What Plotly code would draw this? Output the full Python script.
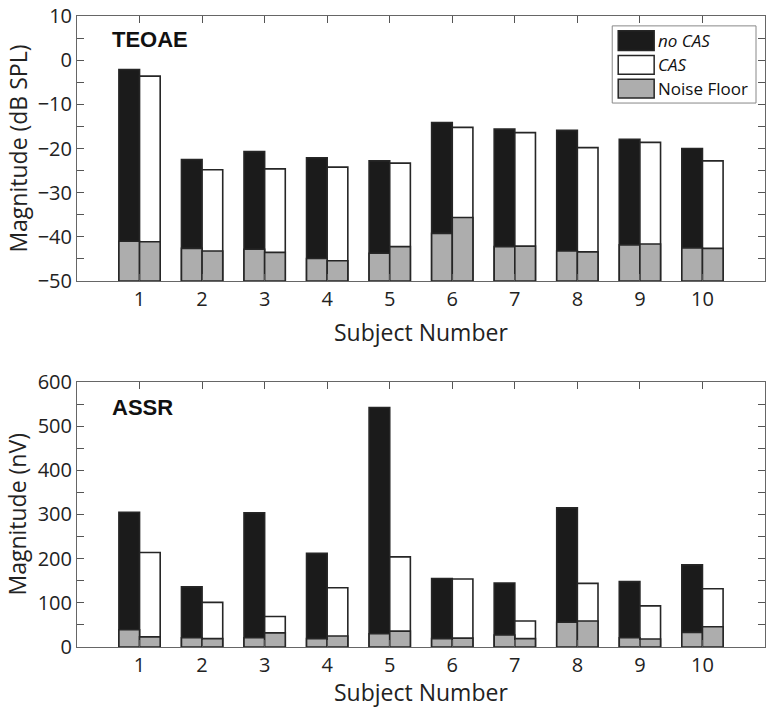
import plotly.graph_objects as go

subjects = [1, 2, 3, 4, 5, 6, 7, 8, 9, 10]
tick_labels = ["1", "2", "3", "4", "5", "6", "7", "8", "9", "10"]

# TEOAE (dB SPL)
teoae_nocas = [-2.1, -22.5, -20.7, -22.1, -22.8, -14.1, -15.6, -15.9, -17.9, -20.0]
teoae_cas = [-3.6, -24.8, -24.6, -24.2, -23.3, -15.2, -16.4, -19.8, -18.6, -22.8]
teoae_nf_nocas = [-41.0, -42.6, -42.8, -44.9, -43.7, -39.2, -42.2, -43.2, -41.8, -42.5]
teoae_nf_cas = [-41.1, -43.2, -43.5, -45.4, -42.2, -35.6, -42.1, -43.4, -41.6, -42.6]

# ASSR (nV)
assr_nocas = [305, 136, 304, 212, 542, 155, 145, 315, 148, 186]
assr_cas = [214, 101, 69, 134, 204, 154, 59, 144, 93, 132]
assr_nf_nocas = [39, 21, 21, 19, 30, 19, 27, 56, 21, 33]
assr_nf_cas = [23, 19, 32, 25, 36, 20, 19, 59, 18, 46]

legend_names = ["no CAS", "CAS", "Noise Floor"]

C_BLACK = "#1b1b1b"
C_WHITE = "#ffffff"
C_GREY = "#adadad"
C_EDGE = "#262626"
BW = 0.33
FONT = "Open Sans"

fig = go.Figure()

def add_bars(vals, base, color, offset, xa, ya):
    fig.add_trace(go.Bar(
        x=subjects, y=[v - base for v in vals], base=base,
        width=BW, offset=offset,
        marker=dict(color=color, line=dict(color=C_EDGE, width=1.6)),
        xaxis=xa, yaxis=ya, showlegend=False, hoverinfo="skip"))

# top
add_bars(teoae_nocas, -50, C_BLACK, -BW, "x", "y")
add_bars(teoae_cas, -50, C_WHITE, 0, "x", "y")
add_bars(teoae_nf_nocas, -50, C_GREY, -BW, "x", "y")
add_bars(teoae_nf_cas, -50, C_GREY, 0, "x", "y")
# bottom
add_bars(assr_nocas, 0, C_BLACK, -BW, "x2", "y2")
add_bars(assr_cas, 0, C_WHITE, 0, "x2", "y2")
add_bars(assr_nf_nocas, 0, C_GREY, -BW, "x2", "y2")
add_bars(assr_nf_cas, 0, C_GREY, 0, "x2", "y2")

# layout geometry (pixels)
W, H = 768, 711
ML, MR, MT, MB = 77, 2, 9, 64
PW = W - ML - MR
PH = H - MT - MB
top_dom = [(H - MB - 277) / PH, 1.0]
bot_dom = [0.0, (H - MB - 379) / PH]

xcommon = dict(range=[0, 11], tickvals=subjects, ticktext=tick_labels,
               ticks="inside", ticklen=7, tickcolor="#555", tickwidth=1,
               showline=True, linecolor="#666", linewidth=1, mirror="ticks",
               showgrid=False, zeroline=False,
               tickfont=dict(family=FONT, size=20, color="#222"))
ycommon = dict(ticks="inside", ticklen=7, tickcolor="#555", tickwidth=1,
               showline=True, linecolor="#666", linewidth=1, mirror="ticks",
               showgrid=False, zeroline=False,
               tickfont=dict(family=FONT, size=20, color="#222"))

fig.update_layout(
    width=W, height=H,
    margin=dict(l=ML, r=MR, t=MT, b=MB),
    paper_bgcolor="white", plot_bgcolor="white",
    barmode="overlay", showlegend=False,
    xaxis=dict(**xcommon, domain=[0, 1], anchor="y"),
    yaxis=dict(**ycommon, domain=top_dom, anchor="x", range=[-50, 10], dtick=10,
               minor=dict(dtick=5, ticks="inside", ticklen=7, tickcolor="#555")),
    xaxis2=dict(**xcommon, domain=[0, 1], anchor="y2"),
    yaxis2=dict(**ycommon, domain=bot_dom, anchor="x2", range=[0, 600], dtick=100,
                minor=dict(dtick=50, ticks="inside", ticklen=7, tickcolor="#555")),
)

ann = []
# panel labels
ann.append(dict(text="<b>TEOAE</b>", xref="x domain", yref="y domain", x=0.048, y=0.912,
                xanchor="left", yanchor="middle", showarrow=False,
                font=dict(family="Liberation Sans", size=22, color="#111")))
ann.append(dict(text="<b>ASSR</b>", xref="x2 domain", yref="y2 domain", x=0.048, y=0.905,
                xanchor="left", yanchor="middle", showarrow=False,
                font=dict(family="Liberation Sans", size=22, color="#111")))
# axis titles
def py(p):
    return (H - MB - p) / PH
ann.append(dict(text="Subject Number", xref="paper", yref="paper", x=0.5, y=py(328),
                xanchor="center", yanchor="middle", showarrow=False,
                font=dict(family=FONT, size=23, color="#222")))
ann.append(dict(text="Subject Number", xref="paper", yref="paper", x=0.5, y=py(693),
                xanchor="center", yanchor="middle", showarrow=False,
                font=dict(family=FONT, size=23, color="#222")))
ann.append(dict(text="Magnitude (dB SPL)", xref="paper", yref="paper", x=(17 - ML) / PW,
                y=py(143), xanchor="center", yanchor="middle", textangle=-90, showarrow=False,
                font=dict(family=FONT, size=23, color="#222")))
ann.append(dict(text="Magnitude (nV)", xref="paper", yref="paper", x=(17 - ML) / PW,
                y=py(513), xanchor="center", yanchor="middle", textangle=-90, showarrow=False,
                font=dict(family=FONT, size=23, color="#222")))

# manual legend (top panel)
def dx(p):
    return (p - ML) / PW
def dy(p):
    return (277 - p) / 268
shapes = []
shapes.append(dict(type="rect", xref="x domain", yref="y domain",
                   x0=dx(613), x1=dx(757), y0=dy(97), y1=dy(19),
                   line=dict(color="#888", width=1), fillcolor="white", layer="above"))
items = [(legend_names[0], C_BLACK, 24, 44, True),
         (legend_names[1], C_WHITE, 49, 68, True),
         (legend_names[2], C_GREY, 73, 92, False)]
for name, col, t, b, ital in items:
    shapes.append(dict(type="rect", xref="x domain", yref="y domain",
                       x0=dx(619), x1=dx(655), y0=dy(b), y1=dy(t),
                       line=dict(color=C_EDGE, width=1.5), fillcolor=col, layer="above"))
    ann.append(dict(text=f"<i>{name}</i>" if ital else name, xref="x domain", yref="y domain",
                    x=dx(657), y=dy((t + b) / 2), xanchor="left", yanchor="middle",
                    showarrow=False, font=dict(family=FONT, size=17, color="#111")))

fig.update_layout(annotations=ann, shapes=shapes)
fig.write_html("out.html", config={"displayModeBar": False},
               post_script="document.body.style.margin='0';document.body.style.overflow='hidden';")
